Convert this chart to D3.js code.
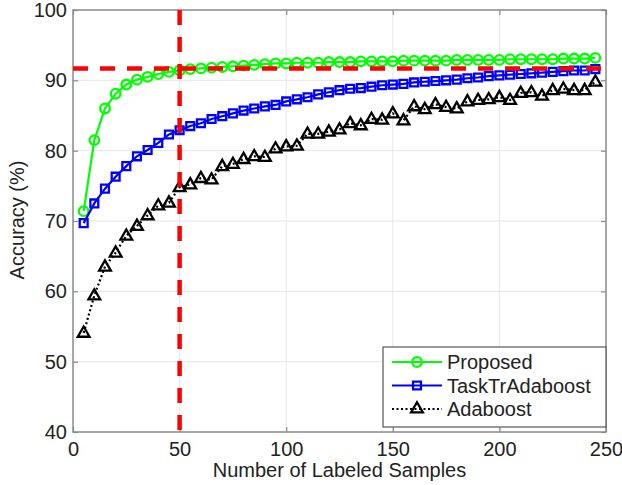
<!DOCTYPE html>
<html>
<head>
<meta charset="utf-8">
<script src="https://cdn.jsdelivr.net/npm/d3@7"></script>
<style>
  body { margin: 0; background: #fff; }
  text { font-family: "Liberation Sans", Arial, sans-serif; fill: #222; }
</style>
</head>
<body>
<svg width="622" height="485"></svg>
<script>
const samples = d3.range(5, 250, 5);
const proposed = [71.4, 81.5, 86.0, 88.1, 89.4, 90.1, 90.5, 90.9, 91.2, 91.4,
  91.6, 91.7, 91.8, 91.9, 92.0, 92.1, 92.2, 92.3, 92.4, 92.4,
  92.5, 92.5, 92.5, 92.6, 92.6, 92.6, 92.7, 92.7, 92.7, 92.7,
  92.8, 92.8, 92.8, 92.8, 92.8, 92.9, 92.9, 92.9, 92.9, 92.9,
  93.0, 93.0, 93.0, 93.0, 93.0, 93.1, 93.1, 93.1, 93.2];
const taskTr = [69.7, 72.5, 74.6, 76.3, 77.8, 79.2, 80.1, 81.1, 82.3, 82.9,
  83.5, 83.9, 84.5, 84.9, 85.3, 85.7, 86.0, 86.3, 86.5, 87.0,
  87.3, 87.6, 88.0, 88.3, 88.6, 88.8, 88.9, 89.1, 89.3, 89.4,
  89.5, 89.7, 89.8, 89.9, 90.0, 90.1, 90.3, 90.4, 90.6, 90.7,
  90.8, 90.9, 91.0, 91.1, 91.2, 91.3, 91.4, 91.4, 91.6];
const adaboost = [54.1, 59.4, 63.5, 65.5, 67.9, 69.3, 70.8, 72.2, 72.6, 74.8,
  75.2, 76.1, 75.9, 77.8, 78.1, 78.8, 79.2, 79.1, 80.3, 80.6,
  80.7, 82.4, 82.4, 82.7, 83.0, 83.9, 83.6, 84.5, 84.4, 85.3,
  84.3, 86.3, 85.9, 86.6, 86.2, 86.0, 87.0, 87.2, 87.3, 87.6,
  87.2, 88.2, 88.3, 87.8, 88.6, 88.8, 88.6, 88.6, 89.8];
const xTicks = [0, 50, 100, 150, 200, 250];
const yTicks = [40, 50, 60, 70, 80, 90, 100];
const refX = 50;
const refY = 91.7;

const series = [
  { name: 'Proposed', values: proposed, color: '#00ff00', marker: 'circle', dash: null },
  { name: 'TaskTrAdaboost', values: taskTr, color: '#0000ff', marker: 'square', dash: null },
  { name: 'Adaboost', values: adaboost, color: '#000000', marker: 'triangle', dash: '2,2.5' }
];

const svg = d3.select('svg');
const plotLeft = 73, plotTop = 10, plotRight = 606, plotBottom = 432;

const x = d3.scaleLinear().domain([0, 250]).range([plotLeft, plotRight]);
const y = d3.scaleLinear().domain([40, 100]).range([plotBottom, plotTop]);

// grid
svg.append('g').selectAll('line').data(xTicks.slice(1, -1)).join('line')
  .attr('x1', d => x(d)).attr('x2', d => x(d)).attr('y1', plotTop).attr('y2', plotBottom)
  .attr('stroke', '#e6e6e6').attr('stroke-width', 1);
svg.append('g').selectAll('line').data(yTicks.slice(1, -1)).join('line')
  .attr('y1', d => y(d)).attr('y2', d => y(d)).attr('x1', plotLeft).attr('x2', plotRight)
  .attr('stroke', '#e6e6e6').attr('stroke-width', 1);

// axes with inward ticks on all sides
const axisStyle = g => {
  g.select('.domain').remove();
  g.selectAll('.tick line').attr('stroke', '#8a8a8a').attr('stroke-width', 1.2);
  g.selectAll('.tick text').style('font-size', '20px').attr('fill', '#222');
};
svg.append('g').attr('transform', `translate(0,${plotBottom})`)
  .call(d3.axisBottom(x).tickValues(xTicks).tickSize(-5).tickPadding(10))
  .call(axisStyle);
svg.append('g').attr('transform', `translate(${plotLeft},0)`)
  .call(d3.axisLeft(y).tickValues(yTicks).tickSize(-5).tickPadding(6))
  .call(axisStyle);
svg.append('g').attr('transform', `translate(0,${plotTop})`)
  .call(d3.axisTop(x).tickValues(xTicks).tickSize(-5).tickFormat(''))
  .call(axisStyle);
svg.append('g').attr('transform', `translate(${plotRight},0)`)
  .call(d3.axisRight(y).tickValues(yTicks).tickSize(-5).tickFormat(''))
  .call(axisStyle);

svg.append('rect')
  .attr('x', plotLeft).attr('y', plotTop)
  .attr('width', plotRight - plotLeft).attr('height', plotBottom - plotTop)
  .attr('fill', 'none').attr('stroke', '#8a8a8a').attr('stroke-width', 1.5);

// series
const line = d3.line().x((d, i) => x(samples[i])).y(d => y(d));
const markerPath = {
  circle: d3.symbol(d3.symbolCircle, 72),
  square: d3.symbol(d3.symbolSquare, 62),
  triangle: d3.symbol(d3.symbolTriangle, 60)
};

series.forEach(s => {
  const g = svg.append('g');
  g.append('path').datum(s.values)
    .attr('d', line)
    .attr('fill', 'none')
    .attr('stroke', s.color)
    .attr('stroke-width', 2.2)
    .attr('stroke-dasharray', s.dash);
  g.selectAll('path.m').data(s.values).join('path')
    .attr('class', 'm')
    .attr('transform', (d, i) => `translate(${x(samples[i])},${y(d) + (s.marker === 'triangle' ? 0.5 : 0)})`)
    .attr('d', markerPath[s.marker])
    .attr('fill', 'none')
    .attr('stroke', s.color)
    .attr('stroke-width', 2.3);
});

// red reference lines
svg.append('line')
  .attr('x1', x(0)).attr('x2', x(250)).attr('y1', y(refY)).attr('y2', y(refY))
  .attr('stroke', '#ff0000').attr('stroke-width', 4.5).attr('stroke-dasharray', '15,12');
svg.append('line')
  .attr('x1', x(refX)).attr('x2', x(refX)).attr('y1', y(100)).attr('y2', y(40))
  .attr('stroke', '#ff0000').attr('stroke-width', 4.5).attr('stroke-dasharray', '15,12');

// axis titles
svg.append('text')
  .attr('x', (plotLeft + plotRight) / 2).attr('y', 477)
  .attr('text-anchor', 'middle').style('font-size', '20px')
  .text('Number of Labeled Samples');
svg.append('text')
  .attr('transform', `translate(24,220) rotate(-90)`)
  .attr('text-anchor', 'middle').style('font-size', '20px')
  .text('Accuracy (%)');

// legend
const legend = svg.append('g');
legend.append('rect')
  .attr('x', 383).attr('y', 347).attr('width', 223).attr('height', 80)
  .attr('fill', '#fff').attr('stroke', '#555').attr('stroke-width', 1.2);
series.forEach((s, i) => {
  const ly = 362 + i * 23.5;
  legend.append('line')
    .attr('x1', 392).attr('x2', 442).attr('y1', ly).attr('y2', ly)
    .attr('stroke', s.color).attr('stroke-width', 2.2)
    .attr('stroke-dasharray', s.dash);
  legend.append('path')
    .attr('transform', `translate(417,${ly})`)
    .attr('d', markerPath[s.marker])
    .attr('fill', 'none').attr('stroke', s.color).attr('stroke-width', 2.3);
  legend.append('text')
    .attr('x', 447).attr('y', ly).attr('dy', '0.36em')
    .style('font-size', '20px')
    .text(s.name);
});
</script>
</body>
</html>
